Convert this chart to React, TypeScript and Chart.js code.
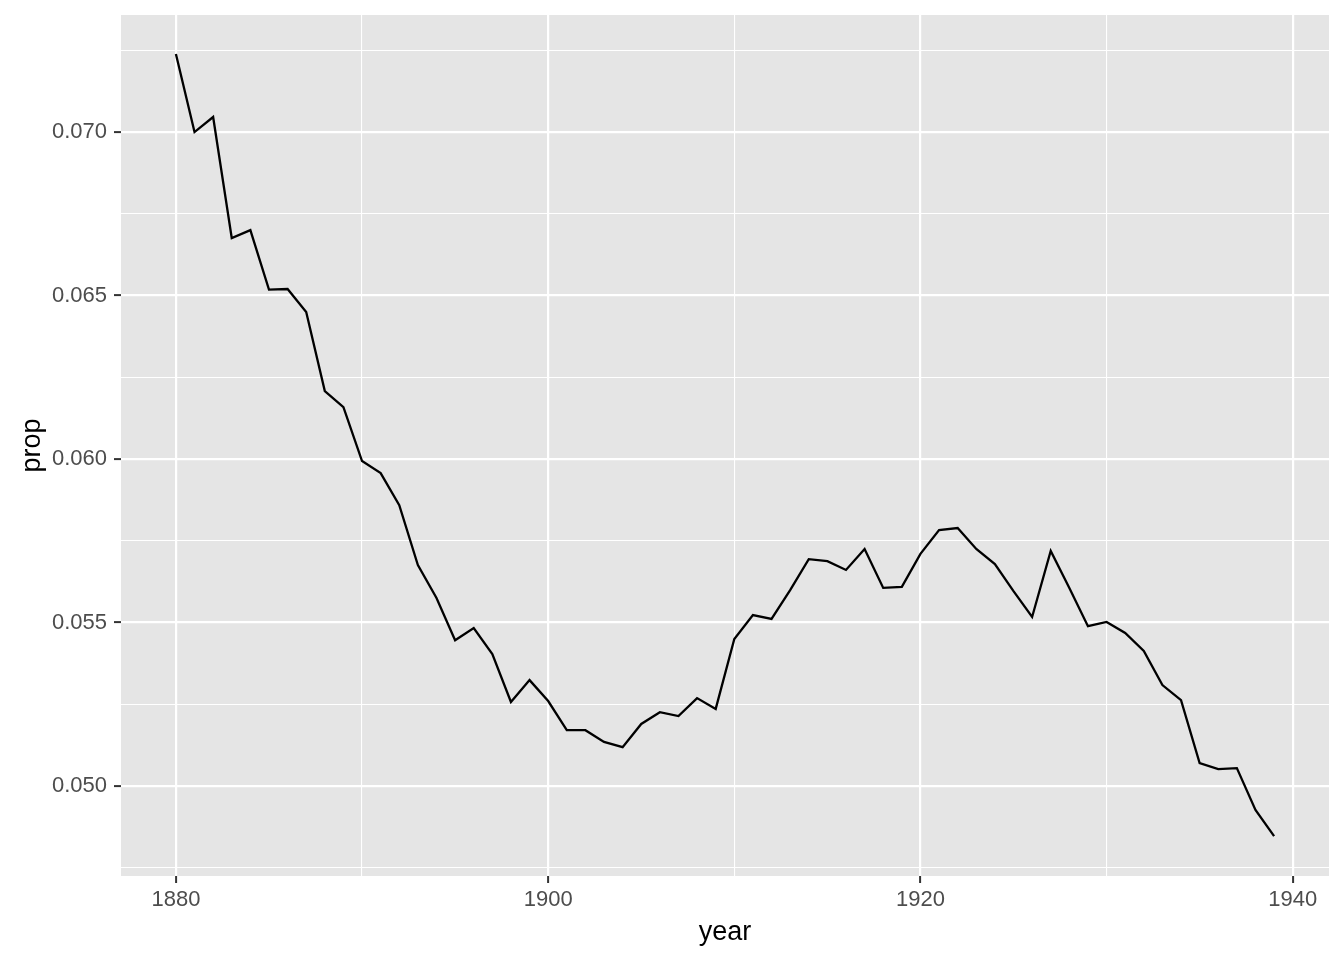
import React, { useEffect, useRef } from "react";
import { Chart, registerables } from "chart.js";

Chart.register(...registerables);

const years: number[] = [
  1880, 1881, 1882, 1883, 1884, 1885, 1886, 1887, 1888, 1889,
  1890, 1891, 1892, 1893, 1894, 1895, 1896, 1897, 1898, 1899,
  1900, 1901, 1902, 1903, 1904, 1905, 1906, 1907, 1908, 1909,
  1910, 1911, 1912, 1913, 1914, 1915, 1916, 1917, 1918, 1919,
  1920, 1921, 1922, 1923, 1924, 1925, 1926, 1927, 1928, 1929,
  1930, 1931, 1932, 1933, 1934, 1935, 1936, 1937, 1938, 1939,
];

const prop: number[] = [
  0.07239, 0.07000, 0.07046, 0.06676, 0.06700, 0.06518, 0.06520, 0.06450, 0.06208, 0.06159,
  0.05994, 0.05957, 0.05859, 0.05676, 0.05575, 0.05446, 0.05483, 0.05404, 0.05257, 0.05324,
  0.05260, 0.05171, 0.05171, 0.05135, 0.05119, 0.05190, 0.05226, 0.05214, 0.05269, 0.05236,
  0.05450, 0.05523, 0.05511, 0.05599, 0.05694, 0.05688, 0.05661, 0.05725, 0.05606, 0.05609,
  0.05710, 0.05783, 0.05789, 0.05725, 0.05679, 0.05596, 0.05517, 0.05719, 0.05606, 0.05489,
  0.05502, 0.05468, 0.05413, 0.05309, 0.05263, 0.05070, 0.05052, 0.05055, 0.04927, 0.04847,
];

const xTicks: number[] = [1880, 1890, 1900, 1910, 1920, 1930, 1940];
const xMajor: number[] = [1880, 1900, 1920, 1940];
const yTicks: number[] = [0.0475, 0.05, 0.0525, 0.055, 0.0575, 0.06, 0.0625, 0.065, 0.0675, 0.07, 0.0725];
const yMajor: number[] = [0.05, 0.055, 0.06, 0.065, 0.07];

const isMajor = (list: number[], v: number) => list.some((m) => Math.abs(m - v) < 1e-9);

const FONT = "'Liberation Sans', Arial, Helvetica, sans-serif";

export default function App() {
  const ref = useRef<HTMLCanvasElement | null>(null);

  useEffect(() => {
    if (!ref.current) return;
    const bgPlugin = {
      id: "panelBg",
      beforeDraw(chart: any) {
        const { ctx, chartArea } = chart;
        ctx.save();
        ctx.fillStyle = "#E5E5E5";
        ctx.fillRect(chartArea.left, chartArea.top, chartArea.right - chartArea.left, chartArea.bottom - chartArea.top);
        ctx.restore();
      },
    };

    const chart = new Chart(ref.current, {
      type: "line",
      data: {
        datasets: [
          {
            data: years.map((y, i) => ({ x: y, y: prop[i] })),
            borderColor: "#000000",
            borderWidth: 2.3,
            pointRadius: 0,
            tension: 0,
            fill: false,
          },
        ],
      },
      plugins: [bgPlugin],
      options: {
        animation: false,
        responsive: false,
        maintainAspectRatio: false,
        layout: { padding: { top: 15, right: 15, left: 0, bottom: 0 } },
        plugins: { legend: { display: false }, tooltip: { enabled: false } },
        scales: {
          x: {
            type: "linear",
            min: 1877.05,
            max: 1941.95,
            afterBuildTicks: (scale: any) => {
              scale.ticks = xTicks.map((v) => ({ value: v }));
            },
            afterFit: (scale: any) => {
              scale.height = 84;
              scale.paddingLeft = 0;
              scale.paddingRight = 0;
            },
            border: { display: false },
            grid: {
              color: "#FFFFFF",
              lineWidth: (c: any) => (isMajor(xMajor, c.tick.value) ? 2.2 : 1.1),
              tickColor: (c: any) => (isMajor(xMajor, c.tick.value) ? "#333333" : "rgba(0,0,0,0)"),
              tickWidth: 2,
              tickLength: 7,
              drawTicks: true,
            },
            ticks: {
              autoSkip: false,
              maxRotation: 0,
              minRotation: 0,
              padding: 4,
              color: "#4D4D4D",
              font: { family: FONT, size: 22 },
              callback: (v: any) => (isMajor(xMajor, Number(v)) ? String(v) : ""),
            },
            title: {
              display: true,
              text: "year",
              color: "#000000",
              font: { family: FONT, size: 27 },
              padding: { top: 0, bottom: 11 },
            },
          },
          y: {
            type: "linear",
            min: 0.04725,
            max: 0.07358,
            afterBuildTicks: (scale: any) => {
              scale.ticks = yTicks.map((v) => ({ value: v }));
            },
            afterFit: (scale: any) => {
              scale.width = 121;
              scale.paddingTop = 0;
              scale.paddingBottom = 0;
            },
            border: { display: false },
            grid: {
              color: "#FFFFFF",
              lineWidth: (c: any) => (isMajor(yMajor, c.tick.value) ? 2.2 : 1.1),
              tickColor: (c: any) => (isMajor(yMajor, c.tick.value) ? "#333333" : "rgba(0,0,0,0)"),
              tickWidth: 2,
              tickLength: 7,
              drawTicks: true,
            },
            ticks: {
              autoSkip: false,
              padding: 7,
              color: "#4D4D4D",
              font: { family: FONT, size: 22 },
              callback: (v: any) => (isMajor(yMajor, Number(v)) ? Number(v).toFixed(3) : ""),
            },
            title: {
              display: true,
              text: "prop",
              color: "#000000",
              font: { family: FONT, size: 27 },
              padding: { top: 16, bottom: 0 },
            },
          },
        },
      },
    } as any);

    return () => chart.destroy();
  }, []);

  return (
    <div style={{ position: "absolute", left: 0, top: 0, width: 1344, height: 960, background: "#FFFFFF" }}>
      <canvas ref={ref} width={1344} height={960} style={{ width: 1344, height: 960, display: "block" }} />
    </div>
  );
}
